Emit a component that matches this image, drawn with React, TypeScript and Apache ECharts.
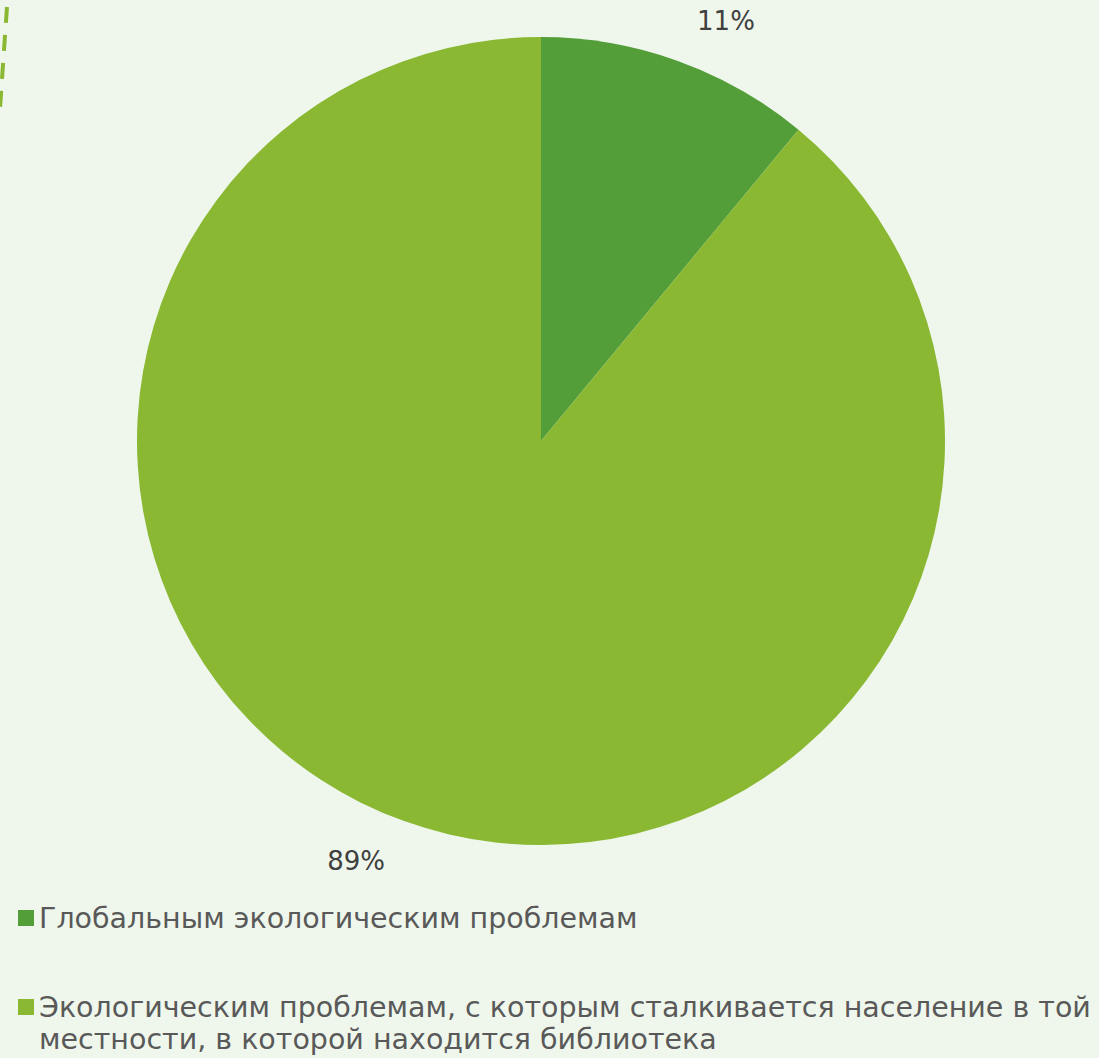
import React, { useEffect, useRef } from 'react';
import * as echarts from 'echarts';

const categories = [
  'Глобальным экологическим проблемам',
  'Экологическим проблемам, с которым сталкивается население в той местности, в которой находится библиотека',
];
const values = [11, 89];
const colors = ['#549e39', '#8ab833'];

const FONT = 'DejaVu Sans';

export default function App() {
  const ref = useRef<HTMLDivElement>(null);
  useEffect(() => {
    const chart = echarts.init(ref.current!, null, { renderer: 'svg' });
    chart.setOption({
      animation: false,
      backgroundColor: '#eff7ec',
      color: colors,
      legend: [
        {
          data: [categories[0]],
          orient: 'vertical',
          left: 18,
          top: 902,
          padding: 0,
          itemWidth: 16,
          itemHeight: 16,
          icon: 'rect',
          textStyle: { fontFamily: FONT, fontSize: 28.5, color: '#595959', lineHeight: 32 },
        },
        {
          data: [categories[1]],
          orient: 'vertical',
          left: 18,
          top: 959,
          padding: 0,
          itemWidth: 16,
          itemHeight: 16,
          icon: 'rect',
          formatter: (n: string) => ' \n' + n.replace(' местности', '\nместности'),
          textStyle: { fontFamily: FONT, fontSize: 28.5, color: '#595959', lineHeight: 32 },
        },
      ],
      graphic: [
        {
          type: 'polyline',
          shape: { points: [[7, 7], [4, 50], [0, 108]] },
          style: { stroke: '#8ab833', lineWidth: 4, lineDash: [16, 12], fill: 'none' },
        },
      ],
      series: [
        {
          type: 'pie',
          center: [541, 441],
          radius: 404,
          startAngle: 90,
          clockwise: true,
          avoidLabelOverlap: false,
          data: categories.map((name, i) => ({ name, value: values[i] })),
          itemStyle: { borderWidth: 0 },
          label: {
            show: true,
            position: 'outside',
            formatter: (p: any) => Math.round(p.percent) + '%',
            fontFamily: FONT,
            fontSize: 26,
            color: '#404040',
          },
          labelLine: { show: false, length: 42, length2: 0 },
          emphasis: { disabled: true },
        },
      ],
    });
    return () => chart.dispose();
  }, []);
  return <div ref={ref} style={{ position: 'fixed', left: 0, top: 0, width: 1099, height: 1058 }} />;
}
